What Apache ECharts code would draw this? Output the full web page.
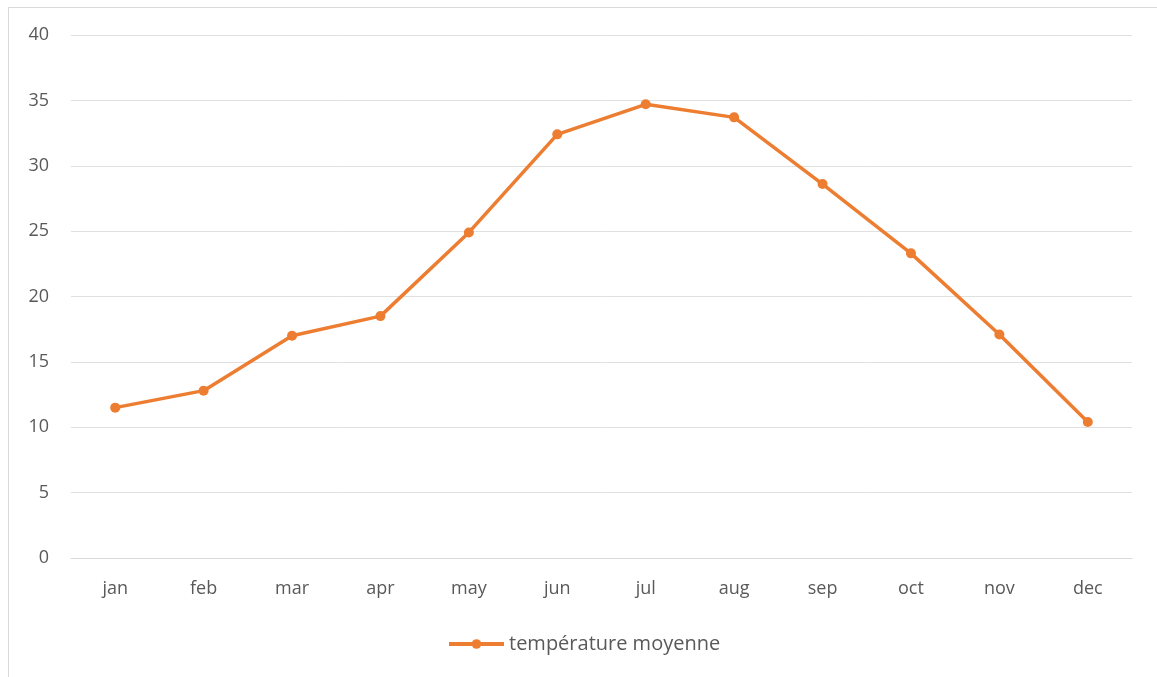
<!DOCTYPE html>
<html>
<head>
<meta charset="utf-8">
<script src="https://cdn.jsdelivr.net/npm/echarts@6/dist/echarts.min.js"></script>
<style>
html,body{margin:0;padding:0;background:#fff;}
#frame{position:absolute;left:8px;top:7px;width:1150px;height:680px;border:1px solid #d9d9d9;box-sizing:border-box;}
#chart{position:absolute;left:0;top:0;width:1157px;height:677px;}
</style>
</head>
<body>
<div id="frame"></div>
<div id="chart"></div>
<script>
const categories = ['jan','feb','mar','apr','may','jun','jul','aug','sep','oct','nov','dec'];
const seriesName = 'température moyenne';
const temperatures = [11.5, 12.8, 17.0, 18.5, 24.9, 32.4, 34.7, 33.7, 28.6, 23.3, 17.1, 10.4];
const yMin = 0, yMax = 40, yStep = 5;

const chart = echarts.init(document.getElementById('chart'), null, {renderer:'canvas'});
chart.setOption({
  animation:false,
  backgroundColor:'transparent',
  textStyle:{fontFamily:'"Open Sans", "Liberation Sans", sans-serif'},
  grid:{left:71, right:25, top:35, bottom:119, containLabel:false},
  legend:{
    top:634, left:447, padding:0,
    itemWidth:55, itemHeight:12, itemGap:10,
    lineStyle:{width:4},
    textStyle:{color:'#595959', fontSize:20, fontFamily:'"Open Sans", sans-serif'},
    data:[seriesName]
  },
  xAxis:{
    type:'category', data:categories, boundaryGap:true,
    axisLine:{show:true, lineStyle:{color:'#d9d9d9', width:1}},
    axisTick:{show:false},
    axisLabel:{color:'#595959', fontSize:18, margin:22}
  },
  yAxis:{
    type:'value', min:yMin, max:yMax, interval:yStep,
    axisLine:{show:false}, axisTick:{show:false},
    axisLabel:{color:'#595959', fontSize:18, margin:22},
    splitLine:{lineStyle:{color:'#e0e0e0', width:1}}
  },
  series:[{
    name:seriesName, type:'line', data:temperatures,
    symbol:'circle', symbolSize:10,
    lineStyle:{color:'#ED7D31', width:3.5},
    itemStyle:{color:'#ED7D31'}
  }]
});
</script>
</body>
</html>
